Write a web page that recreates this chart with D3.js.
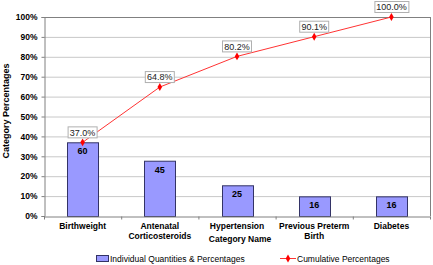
<!DOCTYPE html>
<html><head><meta charset="utf-8">
<script src="https://cdn.jsdelivr.net/npm/d3@7"></script>
<style>body{margin:0;background:#fff}svg{display:block;font-family:"Liberation Sans",Arial,sans-serif}</style>
</head><body><svg id="c" width="433" height="265"></svg>
<script>
const categories = [["Birthweight"],["Antenatal","Corticosteroids"],["Hypertension"],["Previous Preterm","Birth"],["Diabetes"]];
const quantities = [60,45,25,16,16];
const cumulative = [37.0,64.8,80.2,90.1,100.0];
const yTicks = [0,10,20,30,40,50,60,70,80,90,100];

const total = d3.sum(quantities);
const pct = quantities.map(q => q/total*100);
const svg = d3.select("#c");
const L=44,R=430,T=17,B=216;
const x = d3.scaleBand().domain(d3.range(categories.length)).range([L,R]).paddingInner(0.6).paddingOuter(0.3);
const y = d3.scaleLinear().domain([0,100]).range([B,T]);

// gridlines
svg.append("g").selectAll("line").data(yTicks.slice(1)).join("line")
 .attr("x1",L).attr("x2",R).attr("y1",d=>y(d)+0.5).attr("y2",d=>y(d)+0.5)
 .attr("stroke",d=>d===100?"#808080":"#c8c8c8").attr("stroke-width",1);
svg.append("line").attr("x1",R+0.5).attr("x2",R+0.5).attr("y1",T).attr("y2",B).attr("stroke","#808080");

// bars
svg.append("g").selectAll("rect").data(pct).join("rect")
 .attr("x",(d,i)=>Math.round(x(i))+0.5).attr("width",Math.round(x.bandwidth()))
 .attr("y",d=>y(d)+0.5).attr("height",d=>B-y(d))
 .attr("fill","#9999ff").attr("stroke","#333366").attr("stroke-width",1);
svg.append("g").selectAll("text").data(quantities).join("text")
 .attr("x",(d,i)=>x(i)+x.bandwidth()/2).attr("y",(d,i)=>y(pct[i])+12)
 .attr("text-anchor","middle").attr("font-size",9).attr("font-weight","bold").text(d=>d);

// axes
const yAxis = d3.axisLeft(y).tickValues(yTicks).tickFormat(d=>d+"%").tickSize(3);
const gy = svg.append("g").attr("transform",`translate(${L+0.5},0)`).call(yAxis);
gy.select(".domain").attr("stroke","#808080");
gy.selectAll(".tick line").attr("stroke","#808080");
gy.selectAll("text").attr("font-size",8.5).attr("font-weight","bold").attr("font-family","Liberation Sans, Arial").attr("fill","#000").attr("x",-7);

const xb = d3.scaleLinear().domain([0,categories.length]).range([L,R]);
const gx = svg.append("g").attr("transform",`translate(0,${B+0.5})`)
 .call(d3.axisBottom(xb).tickValues(d3.range(categories.length+1)).tickFormat("").tickSize(3).tickSizeOuter(0));
gx.select(".domain").attr("stroke","#808080");
gx.selectAll(".tick line").attr("stroke","#808080");

const xl = svg.append("g");
categories.forEach((c,i)=>{
  const t = xl.append("text").attr("x",x(i)+x.bandwidth()/2).attr("y",229)
   .attr("text-anchor","middle").attr("font-size",8.5).attr("font-weight","bold");
  c.forEach((s,j)=>t.append("tspan").attr("x",x(i)+x.bandwidth()/2).attr("dy",j?10:0).text(s));
});
svg.append("text").attr("x",(L+R)/2+3).attr("y",242).attr("text-anchor","middle")
 .attr("font-size",8.5).attr("font-weight","bold").text("Category Name");
svg.append("text").attr("transform",`translate(9,111) rotate(-90)`).attr("text-anchor","middle")
 .attr("font-size",9).attr("font-weight","bold").text("Category Percentages");

// line
const cx = i => x(i)+x.bandwidth()/2;
svg.append("path").datum(cumulative).attr("fill","none").attr("stroke","#ff3333").attr("stroke-width",1)
 .attr("d",d3.line().x((d,i)=>cx(i)).y(d=>y(d)));
const diamond = d3.symbol().type(d3.symbolDiamond).size(18);
svg.append("g").selectAll("path").data(cumulative).join("path")
 .attr("transform",(d,i)=>`translate(${cx(i)},${y(d)})`).attr("d",diamond).attr("fill","#ff0000");
const lab = svg.append("g").selectAll("g").data(cumulative).join("g")
 .attr("transform",(d,i)=>`translate(${cx(i)},${y(d)-10})`);
lab.append("text").attr("text-anchor","middle").attr("font-size",9).attr("dy","0.35em").attr("fill","#222")
 .text(d=>d.toFixed(1)+"%");
lab.each(function(){
  const g=d3.select(this), bb=g.select("text").node().getBBox();
  g.insert("rect","text").attr("x",Math.round(bb.x)-1.5).attr("y",Math.round(bb.y)-0.5)
   .attr("width",Math.round(bb.width)+3).attr("height",Math.round(bb.height)+1)
   .attr("fill","#fff").attr("stroke","#b0b0b0");
});

// legend
const lg = svg.append("g");
lg.append("rect").attr("x",96.5).attr("y",255.5).attr("width",12).attr("height",6).attr("fill","#9999ff").attr("stroke","#333366");
lg.append("text").attr("x",110).attr("y",262).attr("font-size",8.5).text("Individual Quantities & Percentages");
lg.append("line").attr("x1",280).attr("x2",296).attr("y1",258.5).attr("y2",258.5).attr("stroke","#ff3333");
lg.append("path").attr("transform","translate(288,258.5)").attr("d",diamond).attr("fill","#ff0000");
lg.append("text").attr("x",297).attr("y",262).attr("font-size",8.5).text("Cumulative Percentages");
</script></body></html>
